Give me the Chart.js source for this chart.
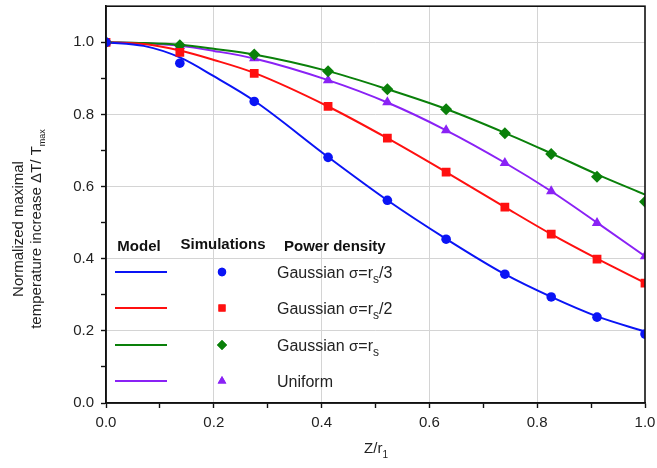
<!DOCTYPE html>
<html>
<head>
<meta charset="utf-8">
<script src="https://cdn.jsdelivr.net/npm/chart.js@4.4.1/dist/chart.umd.min.js"></script>
<style>
html,body{margin:0;padding:0;background:#fff;}
#wrap{width:657px;height:468px;position:relative;}
</style>
</head>
<body>
<div id="wrap"><canvas id="c" width="657" height="468"></canvas></div>
<script>
// ---- data ----
const simX         = [0, 0.137, 0.275, 0.412, 0.522, 0.631, 0.740, 0.826, 0.911, 1.0];
const simGauss3    = [1.0, 0.942, 0.836, 0.681, 0.562, 0.454, 0.357, 0.294, 0.238, 0.191];
const simGauss2    = [1.0, 0.972, 0.914, 0.822, 0.734, 0.640, 0.543, 0.468, 0.399, 0.332];
const simGauss1    = [1.0, 0.992, 0.966, 0.920, 0.870, 0.814, 0.748, 0.690, 0.627, 0.558];
const simUniform   = [1.0, 0.990, 0.956, 0.895, 0.834, 0.756, 0.665, 0.587, 0.499, 0.407];

const modelX       = [0, 0.07, 0.137, 0.2, 0.275, 0.412, 0.522, 0.631, 0.740, 0.826, 0.911, 1.0];
const modelGauss3  = [1.0, 0.990, 0.958, 0.906, 0.838, 0.682, 0.562, 0.455, 0.357, 0.294, 0.240, 0.198];
const modelGauss2  = [1.0, 0.995, 0.977, 0.951, 0.915, 0.822, 0.734, 0.640, 0.543, 0.468, 0.400, 0.333];
const modelGauss1  = [1.0, 0.998, 0.993, 0.982, 0.966, 0.920, 0.870, 0.815, 0.749, 0.692, 0.634, 0.578];
const modelUniform = [1.0, 0.997, 0.990, 0.976, 0.955, 0.895, 0.833, 0.756, 0.666, 0.587, 0.500, 0.407];

const seriesNames  = ['Gaussian σ=rs/3', 'Gaussian σ=rs/2', 'Gaussian σ=rs', 'Uniform'];
const xTickLabels  = ['0.0', '0.2', '0.4', '0.6', '0.8', '1.0'];
const yTickLabels  = ['0.0', '0.2', '0.4', '0.6', '0.8', '1.0'];

// ---- styles ----
const COLORS = ['#0a14f5', '#ff1010', '#0a800a', '#8a22f5'];
const STYLES = ['circle', 'rect', 'rectRot', 'triangle'];
const RADII  = [4.8, 6.2, 6.0, 6.0];
const FONT = 'Arial, "Liberation Sans", Helvetica, sans-serif';

function pts(xs, ys) { return xs.map((x, i) => ({x: x, y: ys[i]})); }

const models = [modelGauss3, modelGauss2, modelGauss1, modelUniform];
const sims   = [simGauss3, simGauss2, simGauss1, simUniform];

const datasets = [];
models.forEach((m, i) => {
  datasets.push({
    label: seriesNames[i] + ' model',
    data: pts(modelX, m),
    showLine: true,
    borderColor: COLORS[i],
    borderWidth: 2,
    pointRadius: 0,
    cubicInterpolationMode: 'monotone',
    clip: 0,
    order: 2
  });
});
sims.forEach((s, i) => {
  datasets.push({
    label: seriesNames[i] + ' simulation',
    data: pts(simX, s),
    showLine: false,
    backgroundColor: COLORS[i],
    borderColor: COLORS[i],
    borderWidth: 0,
    pointStyle: STYLES[i],
    pointRadius: RADII[i],
    clip: 0,
    order: 1
  });
});

function isMajor(v) { return Math.abs(Math.round(v * 10) % 2) === 0; }
function labelFor(v, list) {
  const k = Math.round(v * 5);
  if (Math.abs(v * 5 - k) > 1e-6) return '';
  return list[k] !== undefined ? list[k] : '';
}

// draw text made of segments (normal / subscript)
function drawRich(ctx, segs, x, y, align) {
  let total = 0;
  segs.forEach(s => { ctx.font = s.f; s.w = ctx.measureText(s.t).width; total += s.w; });
  let cx = align === 'center' ? x - total / 2 : x;
  ctx.textAlign = 'left';
  ctx.textBaseline = 'alphabetic';
  segs.forEach(s => { ctx.font = s.f; ctx.fillText(s.t, cx, y + (s.dy || 0)); cx += s.w; });
}

const decorPlugin = {
  id: 'decor',
  afterDatasetsDraw(chart) {
    const ctx = chart.ctx;
    const a = chart.chartArea;
    ctx.save();
    // frame
    ctx.strokeStyle = '#111';
    ctx.lineWidth = 1.6;
    ctx.strokeRect(a.left, a.top, a.right - a.left, a.bottom - a.top);

    // legend table
    ctx.fillStyle = '#111';
    const hf = 'bold 15px ' + FONT;
    ctx.font = hf;
    ctx.textBaseline = 'middle';
    ctx.textAlign = 'center';
    ctx.fillText('Model', 139, 247);
    ctx.fillText('Simulations', 223, 245);
    ctx.textAlign = 'left';
    ctx.fillText('Power density', 284, 247);

    const rows = [272, 308, 345, 381];
    const nf = '16px ' + FONT;
    const sf = '12px ' + FONT;
    const gf = '15px ' + FONT;
    const labels = [
      [{t:'Gaussian ', f:nf}, {t:'σ', f:gf}, {t:'=r', f:nf}, {t:'s', f:sf, dy:5}, {t:'/3', f:nf}],
      [{t:'Gaussian ', f:nf}, {t:'σ', f:gf}, {t:'=r', f:nf}, {t:'s', f:sf, dy:5}, {t:'/2', f:nf}],
      [{t:'Gaussian ', f:nf}, {t:'σ', f:gf}, {t:'=r', f:nf}, {t:'s', f:sf, dy:5}],
      [{t:'Uniform', f:nf}]
    ];
    const legR = [4.2, 5.0, 5.0, 5.0];
    rows.forEach((y, i) => {
      ctx.strokeStyle = COLORS[i];
      ctx.lineWidth = 2;
      ctx.beginPath();
      ctx.moveTo(115, y);
      ctx.lineTo(167, y);
      ctx.stroke();
      ctx.fillStyle = COLORS[i];
      Chart.helpers.drawPoint(ctx, {pointStyle: STYLES[i], radius: legR[i], borderWidth: 0, rotation: 0}, 222, y);
      ctx.fill();
      ctx.fillStyle = '#222';
      drawRich(ctx, labels[i].map(s => Object.assign({}, s)), 277, y + 6, 'left');
    });

    // x axis title
    ctx.fillStyle = '#222';
    drawRich(ctx, [{t:'Z/r', f:'15px ' + FONT}, {t:'1', f:'10px ' + FONT, dy:5}], 376, 453, 'center');

    // y axis title (two lines, rotated)
    ctx.save();
    ctx.translate(0, 229);
    ctx.rotate(-Math.PI / 2);
    drawRich(ctx, [{t:'Normalized maximal', f:'15px ' + FONT}], 0, 23, 'center');
    drawRich(ctx, [{t:'temperature increase ΔT/ T', f:'15px ' + FONT}, {t:'max', f:'9px ' + FONT, dy:4}], 0, 41, 'center');
    ctx.restore();

    ctx.restore();
  }
};

new Chart(document.getElementById('c'), {
  type: 'scatter',
  data: { datasets: datasets },
  plugins: [decorPlugin],
  options: {
    responsive: false,
    animation: false,
    devicePixelRatio: 1,
    layout: { padding: { left: 0, top: 5, right: 12, bottom: 0 } },
    plugins: { legend: { display: false }, tooltip: { enabled: false } },
    scales: {
      x: {
        type: 'linear', min: 0, max: 1,
        afterFit(s) { s.height = 65; s.paddingLeft = 0; s.paddingRight = 0; },
        ticks: {
          stepSize: 0.1, autoSkip: false, maxRotation: 0, padding: 6,
          color: '#222', font: { family: FONT, size: 15 },
          callback: v => labelFor(v, xTickLabels)
        },
        grid: {
          drawTicks: true, tickLength: 5, tickWidth: 1.4, tickColor: '#111', lineWidth: 1,
          color: c => (c.tick && isMajor(c.tick.value) && c.tick.value > 0.01 && c.tick.value < 0.99) ? '#d4d4d4' : 'rgba(0,0,0,0)'
        },
        border: { display: true, color: '#111', width: 1.6 }
      },
      y: {
        type: 'linear', min: 0, max: 1.1,
        afterFit(s) { s.width = 106; s.paddingTop = 0; s.paddingBottom = 0; },
        ticks: {
          stepSize: 0.1, autoSkip: false, padding: 7,
          color: '#222', font: { family: FONT, size: 15 },
          callback: v => (v > 1.05 ? '' : labelFor(v, yTickLabels))
        },
        grid: {
          drawTicks: true, tickLength: 5, tickWidth: 1.4, lineWidth: 1,
          tickColor: c => (c.tick && c.tick.value > 1.05) ? 'rgba(0,0,0,0)' : '#111',
          color: c => (c.tick && isMajor(c.tick.value) && c.tick.value > 0.01 && c.tick.value < 1.05) ? '#d4d4d4' : 'rgba(0,0,0,0)'
        },
        border: { display: true, color: '#111', width: 1.6 }
      }
    }
  }
});
</script>
</body>
</html>
